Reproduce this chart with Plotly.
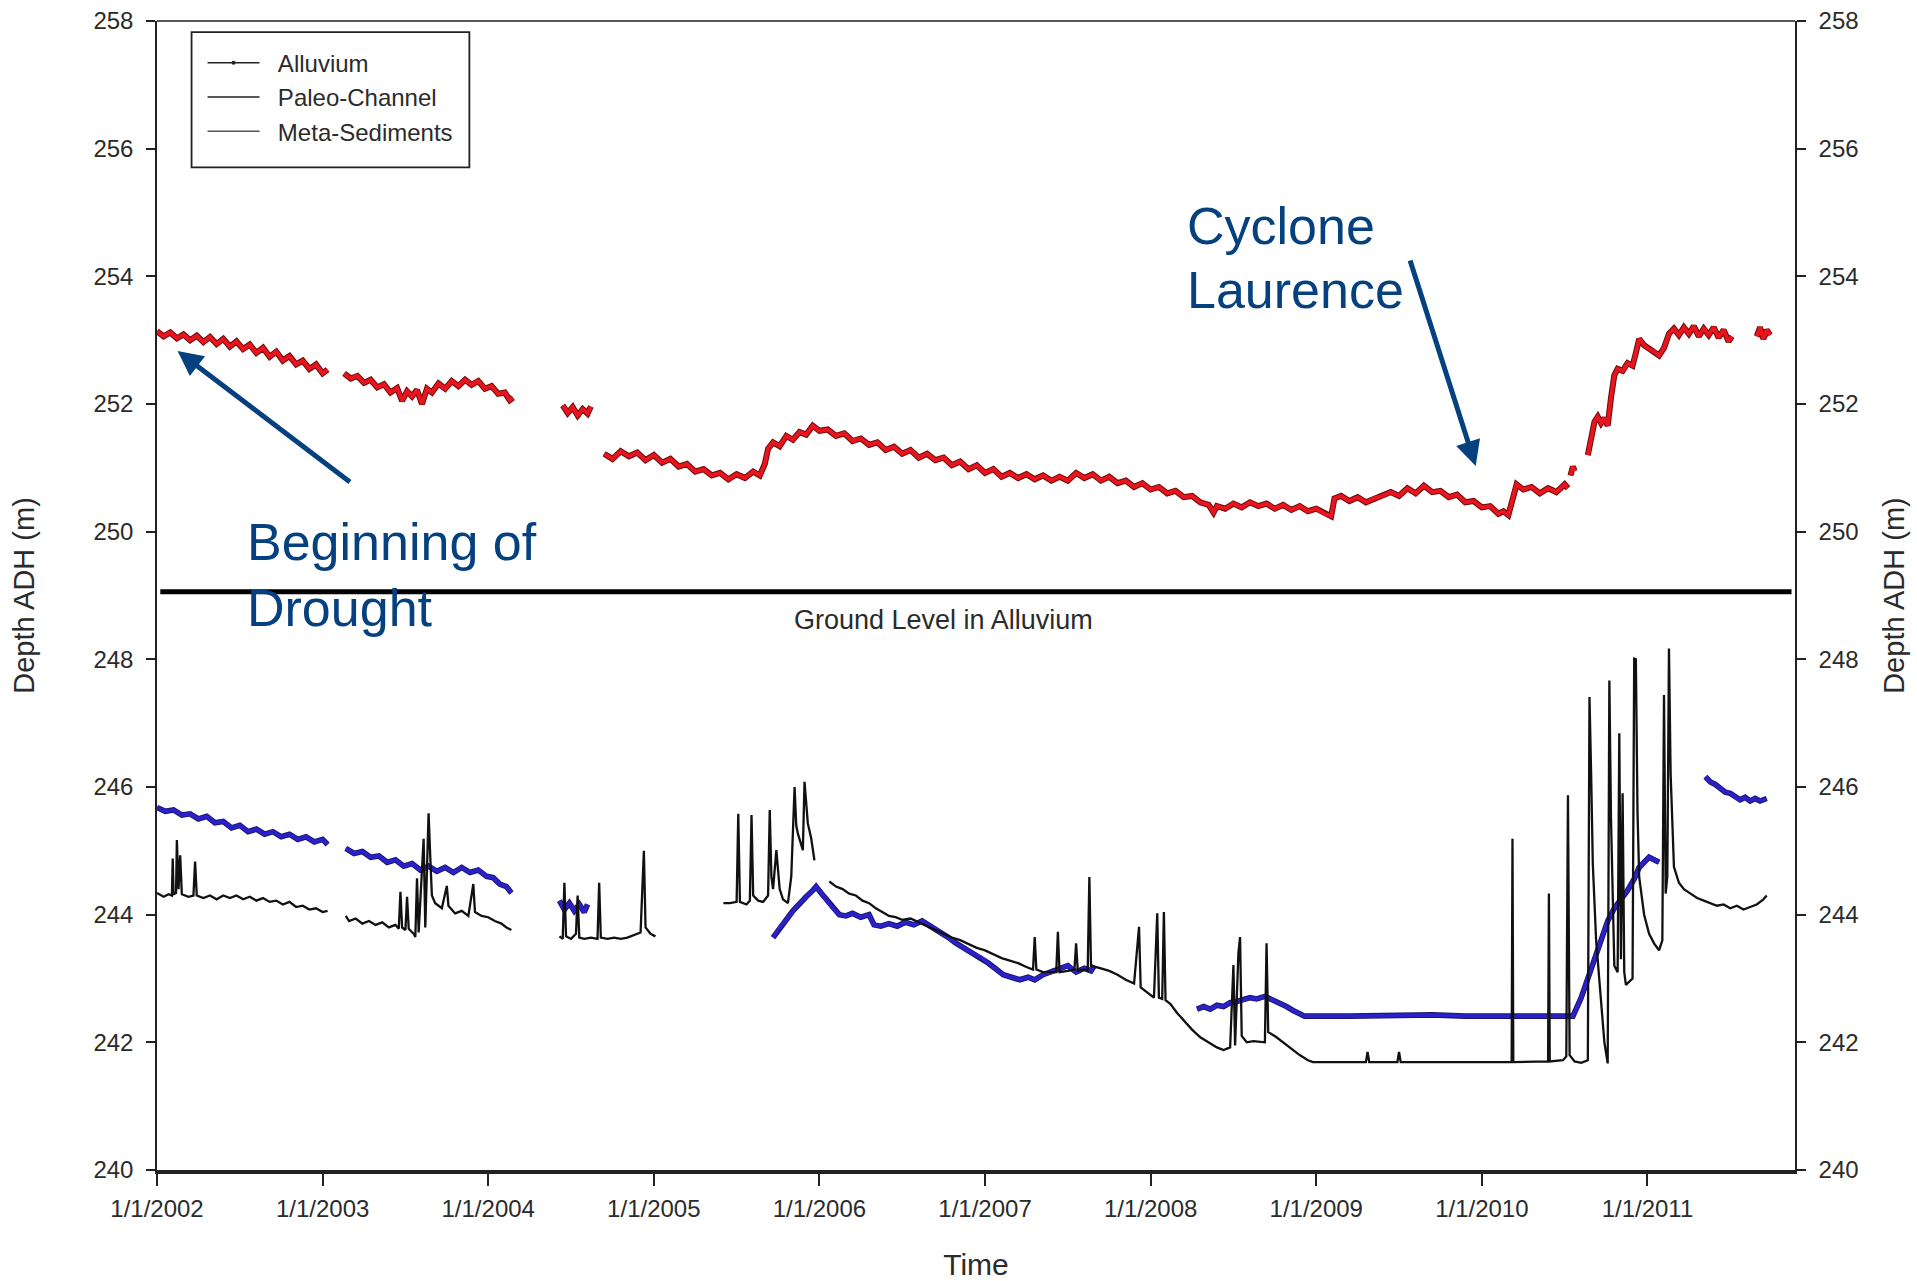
import plotly.graph_objects as go

# ---------------- data ----------------
YEAR_TICKS = [2002, 2003, 2004, 2005, 2006, 2007, 2008, 2009, 2010, 2011]
YEAR_LABELS = ["1/1/2002", "1/1/2003", "1/1/2004", "1/1/2005", "1/1/2006",
               "1/1/2007", "1/1/2008", "1/1/2009", "1/1/2010", "1/1/2011"]
DEPTH_TICKS = [240, 242, 244, 246, 248, 250, 252, 254, 256, 258]

GROUND_LEVEL = 249.06          # "Ground Level in Alluvium" (m ADH)

# Meta-Sediments (red); None marks a logging gap
meta_year = [
    2002.00, 2002.04, 2002.08, 2002.12, 2002.16, 2002.20, 2002.24, 2002.28, 2002.32, 2002.36,
    2002.40, 2002.44, 2002.48, 2002.52, 2002.56, 2002.60, 2002.64, 2002.68, 2002.72, 2002.76,
    2002.80, 2002.84, 2002.88, 2002.92, 2002.96, 2003.00, 2003.03,
    None,
    2003.13, 2003.17, 2003.21, 2003.25, 2003.29, 2003.33, 2003.37, 2003.41, 2003.45, 2003.48,
    2003.51, 2003.54, 2003.57, 2003.60, 2003.63, 2003.66, 2003.70, 2003.74, 2003.78, 2003.82,
    2003.86, 2003.90, 2003.94, 2003.98, 2004.02, 2004.06, 2004.10, 2004.13, 2004.15,
    None,
    2004.45, 2004.48, 2004.51, 2004.54, 2004.57, 2004.60, 2004.62,
    None,
    2004.70, 2004.75, 2004.80, 2004.85, 2004.90, 2004.95, 2005.00, 2005.05, 2005.10, 2005.15,
    2005.20, 2005.25, 2005.30, 2005.35, 2005.40, 2005.45, 2005.50, 2005.55, 2005.60, 2005.64,
    2005.67, 2005.69, 2005.72, 2005.76, 2005.80, 2005.84, 2005.88, 2005.92, 2005.96, 2006.00,
    2006.05, 2006.10, 2006.15, 2006.20, 2006.25, 2006.30, 2006.35, 2006.40, 2006.45, 2006.50,
    2006.55, 2006.60, 2006.65, 2006.70, 2006.75, 2006.80, 2006.85, 2006.90, 2006.95, 2007.00,
    2007.05, 2007.10, 2007.15, 2007.20, 2007.25, 2007.30, 2007.35, 2007.40, 2007.45, 2007.50,
    2007.55, 2007.60, 2007.65, 2007.70, 2007.75, 2007.80, 2007.85, 2007.90, 2007.95, 2008.00,
    2008.05, 2008.10, 2008.15, 2008.20, 2008.25, 2008.30, 2008.35, 2008.38, 2008.40, 2008.45,
    2008.50, 2008.55, 2008.60, 2008.65, 2008.70, 2008.75, 2008.80, 2008.85, 2008.90, 2008.95,
    2009.00, 2009.05, 2009.09, 2009.11, 2009.15, 2009.20, 2009.25, 2009.30, 2009.35, 2009.40,
    2009.45, 2009.50, 2009.55, 2009.60, 2009.65, 2009.70, 2009.75, 2009.80, 2009.85, 2009.90,
    2009.95, 2010.00, 2010.05, 2010.10, 2010.13, 2010.16, 2010.19, 2010.21, 2010.25, 2010.30,
    2010.35, 2010.40, 2010.45, 2010.50, 2010.52,
    None,
    2010.535, 2010.55, 2010.56,
    None,
    2010.64, 2010.66, 2010.68, 2010.70, 2010.72, 2010.74, 2010.76, 2010.78, 2010.80, 2010.82,
    2010.85, 2010.88, 2010.91, 2010.93, 2010.95, 2010.98, 2011.01, 2011.04, 2011.07, 2011.10,
    2011.13, 2011.16, 2011.19, 2011.22, 2011.25, 2011.28, 2011.31, 2011.34, 2011.37, 2011.40,
    2011.43, 2011.46, 2011.49, 2011.51,
    None,
    2011.66, 2011.68, 2011.70, 2011.72, 2011.74,
]
meta_depth = [
    253.14, 253.06, 253.12, 253.03, 253.09, 253.00, 253.07, 252.97, 253.05, 252.94,
    253.02, 252.90, 252.98, 252.86, 252.93, 252.80, 252.88, 252.74, 252.82, 252.68,
    252.75, 252.62, 252.68, 252.55, 252.62, 252.48, 252.54,
    None,
    252.48, 252.40, 252.44, 252.33, 252.38, 252.26, 252.31, 252.18, 252.25, 252.05,
    252.20, 252.12, 252.22, 252.00, 252.24, 252.18, 252.32, 252.24, 252.36, 252.28,
    252.38, 252.30, 252.36, 252.24, 252.28, 252.16, 252.18, 252.06, 252.10,
    None,
    251.98, 251.86, 251.95, 251.82, 251.92, 251.85, 251.96,
    None,
    251.22, 251.14, 251.26, 251.18, 251.24, 251.12, 251.20, 251.08, 251.14, 251.02,
    251.06, 250.94, 250.98, 250.88, 250.92, 250.82, 250.90, 250.84, 250.94, 250.88,
    251.06, 251.30, 251.40, 251.34, 251.50, 251.44, 251.56, 251.52, 251.66, 251.58,
    251.60, 251.50, 251.54, 251.42, 251.46, 251.36, 251.40, 251.28, 251.33, 251.22,
    251.28, 251.16, 251.22, 251.12, 251.16, 251.04, 251.10, 250.98, 251.04, 250.92,
    250.98, 250.86, 250.92, 250.84, 250.90, 250.82, 250.88, 250.80, 250.86, 250.80,
    250.92, 250.84, 250.90, 250.80, 250.86, 250.76, 250.80, 250.70, 250.76, 250.66,
    250.70, 250.60, 250.64, 250.54, 250.56, 250.46, 250.42, 250.30, 250.40, 250.36,
    250.44, 250.38, 250.46, 250.40, 250.44, 250.36, 250.42, 250.34, 250.40, 250.32,
    250.36, 250.28, 250.24, 250.52, 250.56, 250.48, 250.54, 250.46, 250.52, 250.56,
    250.62, 250.56, 250.68, 250.60, 250.72, 250.62, 250.64, 250.54, 250.58, 250.46,
    250.48, 250.38, 250.40, 250.28, 250.32, 250.26, 250.56, 250.74, 250.66, 250.70,
    250.60, 250.68, 250.62, 250.74, 250.68,
    None,
    250.88, 251.02, 250.95,
    None,
    251.20, 251.45, 251.72, 251.80, 251.70, 251.78, 251.66, 252.10, 252.45, 252.55,
    252.52, 252.64, 252.60, 252.80, 253.02, 252.92, 252.86, 252.82, 252.76, 252.88,
    253.10, 253.18, 253.08, 253.20, 253.10, 253.22, 253.06, 253.18, 253.08, 253.20,
    253.04, 253.16, 252.98, 253.06,
    None,
    253.06, 253.20, 253.02, 253.16, 253.08,
]

# Paleo-Channel (blue)
paleo_year = [
    2002.00, 2002.05, 2002.10, 2002.15, 2002.20, 2002.25, 2002.30, 2002.35, 2002.40, 2002.45,
    2002.50, 2002.55, 2002.60, 2002.65, 2002.70, 2002.75, 2002.80, 2002.85, 2002.90, 2002.95,
    2003.00, 2003.03,
    None,
    2003.14, 2003.19, 2003.24, 2003.29, 2003.34, 2003.39, 2003.44, 2003.49, 2003.54, 2003.59,
    2003.64, 2003.69, 2003.74, 2003.79, 2003.84, 2003.89, 2003.94, 2003.99, 2004.03, 2004.07,
    2004.11, 2004.14,
    None,
    2004.43, 2004.46, 2004.49, 2004.52, 2004.55, 2004.58, 2004.60,
    None,
    2005.72, 2005.76, 2005.80, 2005.84, 2005.88, 2005.92, 2005.96, 2005.98, 2006.01, 2006.04,
    2006.08, 2006.12, 2006.16, 2006.20, 2006.25, 2006.30, 2006.33, 2006.37, 2006.42, 2006.47,
    2006.52, 2006.57, 2006.62, 2006.66, 2006.70, 2006.74, 2006.78, 2006.82, 2006.87, 2006.92,
    2006.97, 2007.02, 2007.07, 2007.11, 2007.16, 2007.21, 2007.26, 2007.30, 2007.35, 2007.40,
    2007.45, 2007.50, 2007.55, 2007.60, 2007.64, 2007.66,
    None,
    2008.28, 2008.32, 2008.36, 2008.40, 2008.44, 2008.48, 2008.52, 2008.56, 2008.60, 2008.64,
    2008.69, 2008.74, 2008.78, 2008.82, 2008.86, 2008.90, 2008.93, 2009.20, 2009.50, 2009.70,
    2009.90, 2010.20, 2010.40, 2010.55, 2010.60, 2010.64, 2010.68, 2010.72, 2010.76, 2010.80,
    2010.84, 2010.88, 2010.92, 2010.95, 2010.98, 2011.01, 2011.04, 2011.07,
    None,
    2011.35, 2011.38, 2011.41, 2011.44, 2011.47, 2011.50, 2011.53, 2011.56, 2011.59, 2011.62,
    2011.65, 2011.68, 2011.72,
]
paleo_depth = [
    245.68, 245.62, 245.64, 245.56, 245.58, 245.50, 245.54, 245.44, 245.46, 245.36,
    245.40, 245.30, 245.34, 245.26, 245.30, 245.22, 245.26, 245.18, 245.22, 245.14,
    245.18, 245.10,
    None,
    245.04, 244.96, 244.99, 244.90, 244.92, 244.82, 244.86, 244.76, 244.80, 244.70,
    244.76, 244.68, 244.74, 244.66, 244.74, 244.66, 244.70, 244.60, 244.58, 244.48,
    244.44, 244.34,
    None,
    244.22, 244.08, 244.18, 244.06, 244.16, 244.04, 244.16,
    None,
    243.64, 243.80, 243.92, 244.06, 244.18, 244.28, 244.38, 244.44, 244.34, 244.24,
    244.10, 244.00, 243.98, 244.02, 243.96, 244.00, 243.84, 243.82, 243.86, 243.82,
    243.88, 243.84, 243.90, 243.84, 243.78, 243.70, 243.64, 243.56, 243.48, 243.40,
    243.34, 243.24, 243.14, 243.06, 243.02, 242.98, 243.02, 242.98, 243.06, 243.10,
    243.14, 243.20, 243.10, 243.16, 243.12, 243.20,
    None,
    242.52, 242.56, 242.52, 242.58, 242.56, 242.62, 242.64, 242.66, 242.70, 242.68,
    242.72, 242.66, 242.62, 242.56, 242.50, 242.44, 242.41, 242.41, 242.43, 242.43,
    242.41, 242.41, 242.40, 242.41, 242.70, 243.00, 243.28, 243.60, 243.90, 244.10,
    244.24, 244.38, 244.56, 244.74, 244.82, 244.90, 244.86, 244.82,
    None,
    246.16, 246.08, 246.04, 245.98, 245.92, 245.90, 245.84, 245.80, 245.84, 245.78,
    245.82, 245.78, 245.82,
]

# Alluvium (black)
alluvium_year = [
    2002.00, 2002.04, 2002.07, 2002.09, 2002.095, 2002.10, 2002.115, 2002.12, 2002.13, 2002.14,
    2002.15, 2002.19, 2002.22, 2002.23, 2002.24, 2002.28, 2002.32, 2002.36, 2002.40, 2002.44,
    2002.48, 2002.52, 2002.56, 2002.60, 2002.64, 2002.68, 2002.72, 2002.76, 2002.80, 2002.84,
    2002.88, 2002.92, 2002.96, 2003.00, 2003.03,
    None,
    2003.14, 2003.16, 2003.20, 2003.24, 2003.28, 2003.32, 2003.36, 2003.40, 2003.44, 2003.46,
    2003.47, 2003.48, 2003.50, 2003.51, 2003.52, 2003.55, 2003.56, 2003.57, 2003.58, 2003.61,
    2003.62, 2003.64, 2003.65, 2003.66, 2003.68, 2003.72, 2003.75, 2003.76, 2003.80, 2003.84,
    2003.88, 2003.91, 2003.92, 2003.96, 2004.00, 2004.04, 2004.08, 2004.11, 2004.14,
    None,
    2004.43, 2004.45, 2004.46, 2004.47, 2004.50, 2004.53, 2004.54, 2004.55, 2004.58, 2004.62,
    2004.66, 2004.67, 2004.68, 2004.72, 2004.76, 2004.80, 2004.84, 2004.88, 2004.92, 2004.94,
    2004.95, 2004.98, 2005.01,
    None,
    2005.42, 2005.46, 2005.50, 2005.51, 2005.52, 2005.56, 2005.58, 2005.59, 2005.60, 2005.63,
    2005.66, 2005.69, 2005.70, 2005.71, 2005.72, 2005.74, 2005.76, 2005.78, 2005.81, 2005.83,
    2005.85, 2005.86, 2005.87, 2005.89, 2005.90, 2005.91, 2005.93, 2005.95, 2005.97,
    None,
    2006.06, 2006.10, 2006.14, 2006.18, 2006.22, 2006.26, 2006.30, 2006.34, 2006.38, 2006.42,
    2006.46, 2006.50, 2006.55, 2006.60, 2006.65, 2006.70, 2006.75, 2006.80, 2006.85, 2006.90,
    2006.95, 2007.00, 2007.05, 2007.10, 2007.15, 2007.20, 2007.25, 2007.29, 2007.30, 2007.31,
    2007.35, 2007.43, 2007.44, 2007.45, 2007.50, 2007.54, 2007.55, 2007.56, 2007.60, 2007.62,
    2007.63, 2007.64, 2007.70, 2007.75, 2007.80, 2007.85, 2007.90, 2007.93, 2007.94, 2007.98,
    2008.02, 2008.04, 2008.05, 2008.07, 2008.08, 2008.09, 2008.12, 2008.16, 2008.20, 2008.25,
    2008.30, 2008.35, 2008.40, 2008.44, 2008.48, 2008.50, 2008.51, 2008.53, 2008.54, 2008.55,
    2008.58, 2008.62, 2008.69, 2008.70, 2008.71, 2008.76, 2008.80, 2008.85, 2008.90, 2008.95,
    2008.98, 2009.30, 2009.31, 2009.32, 2009.49, 2009.50, 2009.51, 2010.18, 2010.185, 2010.19,
    2010.40, 2010.405, 2010.41, 2010.49, 2010.51, 2010.52, 2010.53, 2010.56, 2010.60, 2010.64,
    2010.65, 2010.66, 2010.67, 2010.69, 2010.72, 2010.74, 2010.76, 2010.77, 2010.78, 2010.80,
    2010.82, 2010.83, 2010.84, 2010.85, 2010.86, 2010.87, 2010.91, 2010.92, 2010.93, 2010.94,
    2010.95, 2010.98, 2011.01, 2011.04, 2011.07, 2011.09, 2011.10, 2011.11, 2011.12, 2011.13,
    2011.14, 2011.16, 2011.19, 2011.22, 2011.26, 2011.30, 2011.34, 2011.38, 2011.42, 2011.46,
    2011.50, 2011.54, 2011.58, 2011.62, 2011.66, 2011.70, 2011.72,
]
alluvium_depth = [
    244.34, 244.28, 244.32, 244.30, 244.88, 244.32, 244.34, 245.17, 244.40, 244.93,
    244.32, 244.28, 244.30, 244.83, 244.30, 244.26, 244.30, 244.24, 244.30, 244.26,
    244.30, 244.24, 244.28, 244.22, 244.26, 244.20, 244.22, 244.16, 244.20, 244.12,
    244.14, 244.08, 244.10, 244.04, 244.06,
    None,
    243.98, 243.90, 243.94, 243.86, 243.90, 243.84, 243.88, 243.80, 243.84, 243.78,
    244.36, 243.80, 243.76, 244.28, 243.78, 243.70, 243.65, 244.57, 243.72, 245.19,
    243.80, 245.59, 244.91, 244.30, 244.18, 244.10, 244.45, 244.14, 244.02, 244.06,
    243.98, 244.48, 244.04, 243.98, 243.96, 243.90, 243.86, 243.80, 243.76,
    None,
    243.66, 243.62, 244.50, 243.66, 243.62, 243.70, 244.30, 243.64, 243.62, 243.64,
    243.62, 244.50, 243.64, 243.62, 243.64, 243.62, 243.64, 243.68, 243.72, 245.00,
    243.80, 243.70, 243.66,
    None,
    244.18, 244.18, 244.20, 245.58, 244.20, 244.16, 244.22, 245.56, 244.30, 244.22,
    244.20, 244.30, 245.64, 244.60, 244.40, 245.01, 244.40, 244.24, 244.18, 244.60,
    246.00, 245.40, 245.27, 245.10, 245.01, 246.08, 245.43, 245.20, 244.85,
    None,
    244.52, 244.44, 244.40, 244.33, 244.30, 244.22, 244.18, 244.10, 244.04, 243.98,
    243.96, 243.92, 243.94, 243.88, 243.82, 243.76, 243.70, 243.64, 243.60, 243.54,
    243.48, 243.44, 243.38, 243.32, 243.28, 243.24, 243.18, 243.14, 243.65, 243.14,
    243.10, 243.10, 243.73, 243.10, 243.12, 243.14, 243.55, 243.12, 243.14, 243.12,
    244.59, 243.20, 243.16, 243.12, 243.06, 242.98, 242.92, 243.81, 242.86, 242.78,
    242.70, 244.02, 242.70, 242.68, 244.04, 242.66, 242.60, 242.46, 242.34, 242.20,
    242.08, 242.00, 241.92, 241.88, 241.92, 243.21, 241.95, 243.40, 243.65, 242.10,
    242.00, 242.02, 242.00, 243.55, 242.16, 242.08, 242.00, 241.90, 241.80, 241.72,
    241.69, 241.69, 241.85, 241.69, 241.69, 241.85, 241.69, 241.69, 245.19, 241.69,
    241.70, 244.33, 241.70, 241.72, 241.78, 245.87, 241.80, 241.70, 241.68, 241.72,
    247.41, 246.20, 244.80, 243.60, 242.60, 242.00, 241.67, 247.67, 245.50, 243.20,
    243.10, 246.84, 243.30, 245.90, 243.10, 242.90, 243.00, 248.01, 248.00, 245.60,
    244.59, 244.00, 243.70, 243.55, 243.44, 243.60, 247.44, 244.33, 244.60, 248.17,
    246.20, 244.75, 244.50, 244.40, 244.33, 244.26, 244.22, 244.18, 244.14, 244.16,
    244.10, 244.14, 244.08, 244.12, 244.16, 244.24, 244.30,
]

LEGEND_NAMES = ["Alluvium", "Paleo-Channel", "Meta-Sediments"]

# ---------------- styling ----------------
FONT = "Liberation Sans, Arial, sans-serif"
TEXT_GREY = "#2b2b2b"
NAVY = "#06417f"
RED = "#e8141e"
RED_EDGE = "#6e0a0a"
BLUE = "#2b21c8"
BLUE_EDGE = "#1a1470"
BLACK = "#111111"

X_RANGE = [2002.0, 2011.891]
Y_RANGE = [240, 258]

fig = go.Figure()

# Paleo-Channel: dark edge + blue core
fig.add_trace(go.Scatter(x=paleo_year, y=paleo_depth, mode="lines",
                         line=dict(color=BLUE_EDGE, width=5.6), showlegend=False,
                         hoverinfo="skip"))
fig.add_trace(go.Scatter(x=paleo_year, y=paleo_depth, mode="lines",
                         line=dict(color=BLUE, width=3.8), showlegend=False,
                         name="Paleo-Channel", hoverinfo="skip"))
# Alluvium
fig.add_trace(go.Scatter(x=alluvium_year, y=alluvium_depth, mode="lines",
                         line=dict(color=BLACK, width=2.3), showlegend=False,
                         name="Alluvium", hoverinfo="skip"))
# Meta-Sediments: dark edge + red core
fig.add_trace(go.Scatter(x=meta_year, y=meta_depth, mode="lines",
                         line=dict(color=RED_EDGE, width=6), showlegend=False,
                         hoverinfo="skip"))
fig.add_trace(go.Scatter(x=meta_year, y=meta_depth, mode="lines",
                         line=dict(color=RED, width=4), showlegend=False,
                         name="Meta-Sediments", hoverinfo="skip"))

# legend samples are drawn in black in the original
NBSP = "\u00a0\u00a0"
fig.add_trace(go.Scatter(x=[None], y=[None], mode="lines+markers", name=NBSP + LEGEND_NAMES[0],
                         line=dict(color="#222222", width=1.5),
                         marker=dict(color="#222222", size=4), yaxis="y2"))
fig.add_trace(go.Scatter(x=[None], y=[None], mode="lines", name=NBSP + LEGEND_NAMES[1],
                         line=dict(color="#222222", width=1.5), yaxis="y2"))
fig.add_trace(go.Scatter(x=[None], y=[None], mode="lines", name=NBSP + LEGEND_NAMES[2],
                         line=dict(color="#555555", width=1.5), yaxis="y2"))

tickfont = dict(family=FONT, size=24, color=TEXT_GREY)
titlefont = dict(family=FONT, size=29, color=TEXT_GREY)

fig.update_layout(
    width=1917, height=1281,
    margin=dict(l=157, r=122, t=21, b=111, autoexpand=False),
    paper_bgcolor="white", plot_bgcolor="white",
    font=dict(family=FONT, color=TEXT_GREY),
    xaxis=dict(
        range=X_RANGE, tickmode="array", tickvals=YEAR_TICKS, ticktext=YEAR_LABELS,
        ticks="outside", ticklen=12, tickwidth=1.5, tickcolor="#222",
        showline=True, linewidth=3.5, linecolor="#222",
        showgrid=False, zeroline=False, tickfont=tickfont, ticklabelstandoff=2,
        title=dict(text="Time", font=dict(family=FONT, size=30, color=TEXT_GREY), standoff=34),
        automargin=False,
    ),
    yaxis=dict(
        range=Y_RANGE, tickmode="array", tickvals=DEPTH_TICKS,
        ticks="outside", ticklen=9, tickwidth=1.5, tickcolor="#222",
        showline=True, linewidth=1.5, linecolor="#222",
        showgrid=False, zeroline=False, tickfont=tickfont, ticklabelstandoff=8,
        title=dict(text="Depth ADH (m)", font=titlefont, standoff=50),
        automargin=False,
    ),
    yaxis2=dict(
        range=Y_RANGE, tickmode="array", tickvals=DEPTH_TICKS,
        overlaying="y", side="right",
        ticks="outside", ticklen=9, tickwidth=1.5, tickcolor="#222",
        showline=True, linewidth=1.5, linecolor="#222",
        showgrid=False, zeroline=False, tickfont=tickfont, ticklabelstandoff=8,
        title=dict(text="Depth ADH (m)", font=titlefont, standoff=26),
        automargin=False,
    ),
    legend=dict(
        x=0.0278, y=0.9829, xanchor="left", yanchor="top",
        bgcolor="rgba(0,0,0,0)", borderwidth=0,
        font=dict(family=FONT, size=24, color=TEXT_GREY),
        itemwidth=52, traceorder="normal",
    ),
    showlegend=True,
)

# legend frame (box in the original is larger than the entries)
fig.add_shape(type="rect", xref="paper", yref="paper",
              x0=0.0211, x1=0.1907, y0=0.8726, y1=0.9904,
              line=dict(color="#222", width=1.8), fillcolor="white", layer="below")
# top frame line
fig.add_shape(type="line", xref="paper", yref="paper", x0=0, x1=1, y0=1, y1=1,
              line=dict(color="#222", width=1.5))
# ground level line
fig.add_shape(type="line", xref="x", yref="y", x0=2002.02, x1=2011.87,
              y0=GROUND_LEVEL, y1=GROUND_LEVEL, line=dict(color="black", width=5))

ann_font = dict(family=FONT, size=52, color=NAVY)
annotations = [
    dict(x=2006.751, y=248.62, text="Ground Level in Alluvium", showarrow=False,
         xanchor="center", yanchor="middle", font=dict(family=FONT, size=27, color=TEXT_GREY)),
    dict(x=2002.53, y=249.84, text="Beginning of", showarrow=False,
         xanchor="left", yanchor="middle", font=ann_font),
    dict(x=2002.53, y=248.80, text="Drought", showarrow=False,
         xanchor="left", yanchor="middle", font=ann_font),
    dict(x=2008.21, y=254.79, text="Cyclone", showarrow=False,
         xanchor="left", yanchor="middle", font=ann_font),
    dict(x=2008.21, y=253.78, text="Laurence", showarrow=False,
         xanchor="left", yanchor="middle", font=ann_font),
    # arrows
    dict(x=2002.124, y=252.83, ax=2003.174, ay=250.76, axref="x", ayref="y",
         text="", showarrow=True, arrowhead=2, arrowsize=1, arrowwidth=5, arrowcolor=NAVY),
    dict(x=2009.963, y=251.03, ax=2009.564, ay=254.27, axref="x", ayref="y",
         text="", showarrow=True, arrowhead=2, arrowsize=1, arrowwidth=5, arrowcolor=NAVY),
]
for a in annotations:
    a.setdefault("xref", "x")
    a.setdefault("yref", "y")
    fig.add_annotation(**a)

fig.write_html("out.html", config={"displayModeBar": False},
               post_script="document.body.style.margin='0';document.body.style.overflow='hidden';")
